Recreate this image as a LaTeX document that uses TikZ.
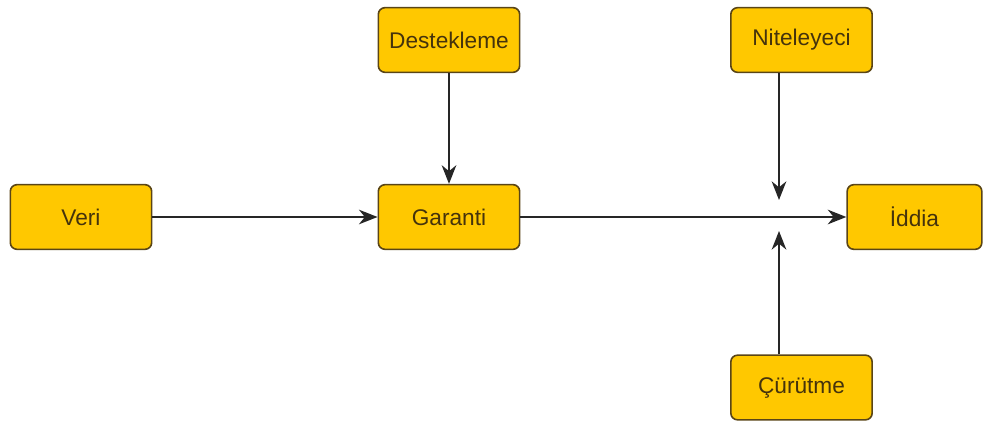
\documentclass[tikz,border=0pt]{standalone}
\usepackage{fontspec}
\setmainfont{Liberation Sans}
\usetikzlibrary{arrows.meta}
\definecolor{boxfill}{HTML}{FFC800}
\definecolor{boxline}{HTML}{5A4516}
\definecolor{boxtext}{HTML}{45330C}
\begin{document}
\begin{tikzpicture}
        [x=0.75pt, y=-0.75pt,
        box/.style={draw=boxline, fill=boxfill, line width=1.2pt, rounded corners=5pt,
          minimum width=106pt, minimum height=48.5pt, text=boxtext,
          font=\fontsize{17}{20}\selectfont},
        arr/.style={line width=1.2pt, black!85, -{Stealth[length=14pt, width=11pt, inset=4.5pt]}}]

        \useasboundingbox (0,0) rectangle (984,423);

        \node[box] (destek) at (449,40) {Destekleme};
        \node[box] (nitel) at (801.5,40) {Niteleyeci};
        \node[box] (veri) at (81,217) {Veri};
        \node[box] (garanti) at (449,217) {Garanti};
        \node[box, minimum width=101pt] (iddia) at (914.5,217) {İddia};
        \node[box] (curut) at (801.5,387.5) {Çürütme};

        % arrow tips of the qualifier and rebuttal
        \coordinate (ntip) at (779,200);
        \coordinate (ctip) at (779,231);

        % main line
        \draw[arr] (veri) -- (garanti);
        \draw[arr] (garanti) -- (iddia);
        \draw[arr] (destek) -- (garanti);

        % qualifier and rebuttal
        \draw[arr] (nitel.south -| ntip) -- (ntip);
        \draw[arr] (curut.north -| ctip) -- (ctip);

    \end{tikzpicture}
\end{document}
